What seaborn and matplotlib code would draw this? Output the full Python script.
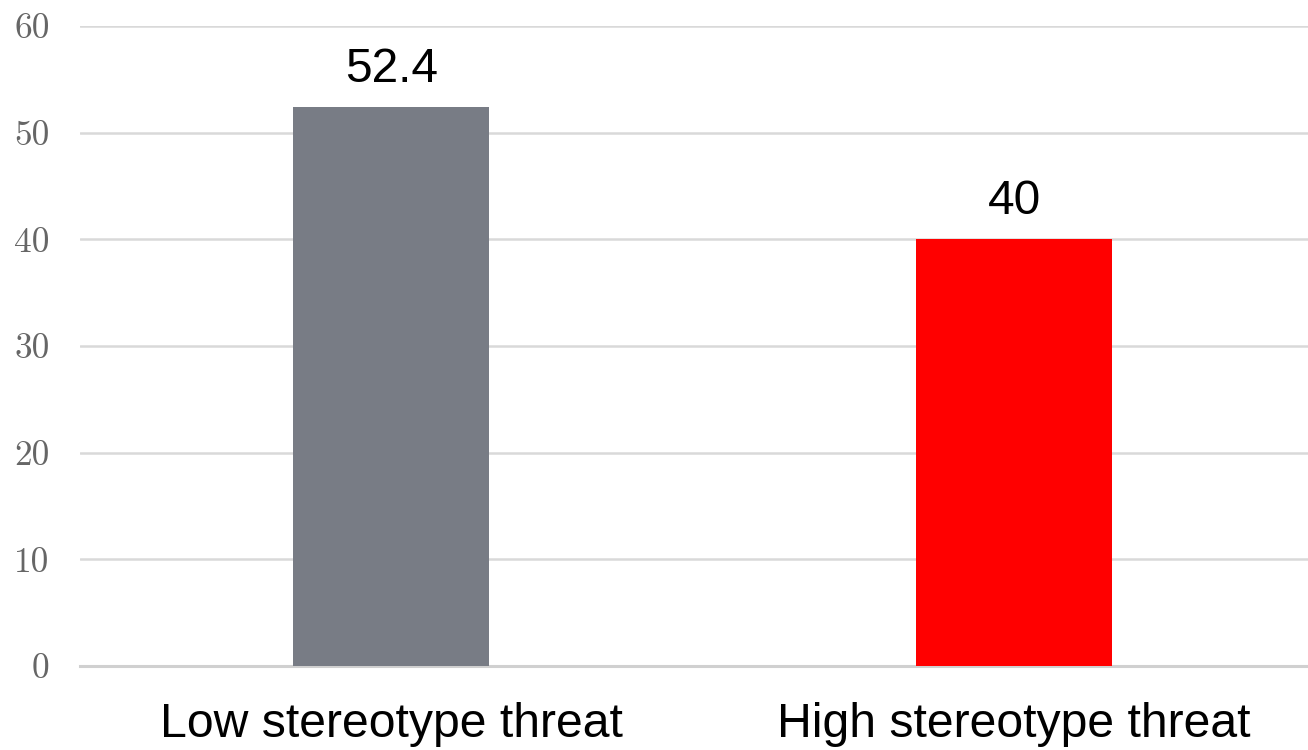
import matplotlib
matplotlib.use("Agg")
import matplotlib.pyplot as plt
import seaborn as sns
import pandas as pd

# Data
categories = ["Low stereotype threat", "High stereotype threat"]
values = [52.4, 40]
bar_colors = ["#787c85", "#ff0000"]
y_ticks = [0, 10, 20, 30, 40, 50, 60]

sns.set_theme(style="white")
plt.rcParams["font.family"] = ["Liberation Sans", "DejaVu Sans"]

df = pd.DataFrame({"condition": categories, "score": values})

fig = plt.figure(figsize=(13.08, 7.5), dpi=100)
ax = fig.add_axes([80 / 1308, 84 / 750, 1 - 80 / 1308, (666 - 26) / 750])

sns.barplot(data=df, x="condition", y="score", hue="condition",
            palette=bar_colors, width=0.315, legend=False, ax=ax,
            saturation=1, linewidth=0, edgecolor="none", zorder=3)

# Value labels above the bars
for container in ax.containers:
    ax.bar_label(container, fmt="{:g}", padding=11, fontsize=34.5, color="black")

ax.set_ylim(0, 60)
ax.set_xlim(-0.5, 1.472)
ax.set_yticks(y_ticks)
ax.set_yticklabels([str(t) for t in y_ticks], family="cmr10",
                   fontsize=25.5, color="#666666")
ax.tick_params(axis="y", length=0, pad=22)
ax.tick_params(axis="x", length=0, pad=26, labelsize=34.7, labelcolor="black")

ax.set_xlabel("")
ax.set_ylabel("")
ax.yaxis.grid(True, color="#d9d9d9", linewidth=1.8, zorder=0)
ax.set_axisbelow(True)
for side in ["top", "right", "left"]:
    ax.spines[side].set_visible(False)
ax.spines["bottom"].set_color("#d0d0d0")
ax.spines["bottom"].set_linewidth(2.2)

fig.savefig("out.png", dpi=100)
